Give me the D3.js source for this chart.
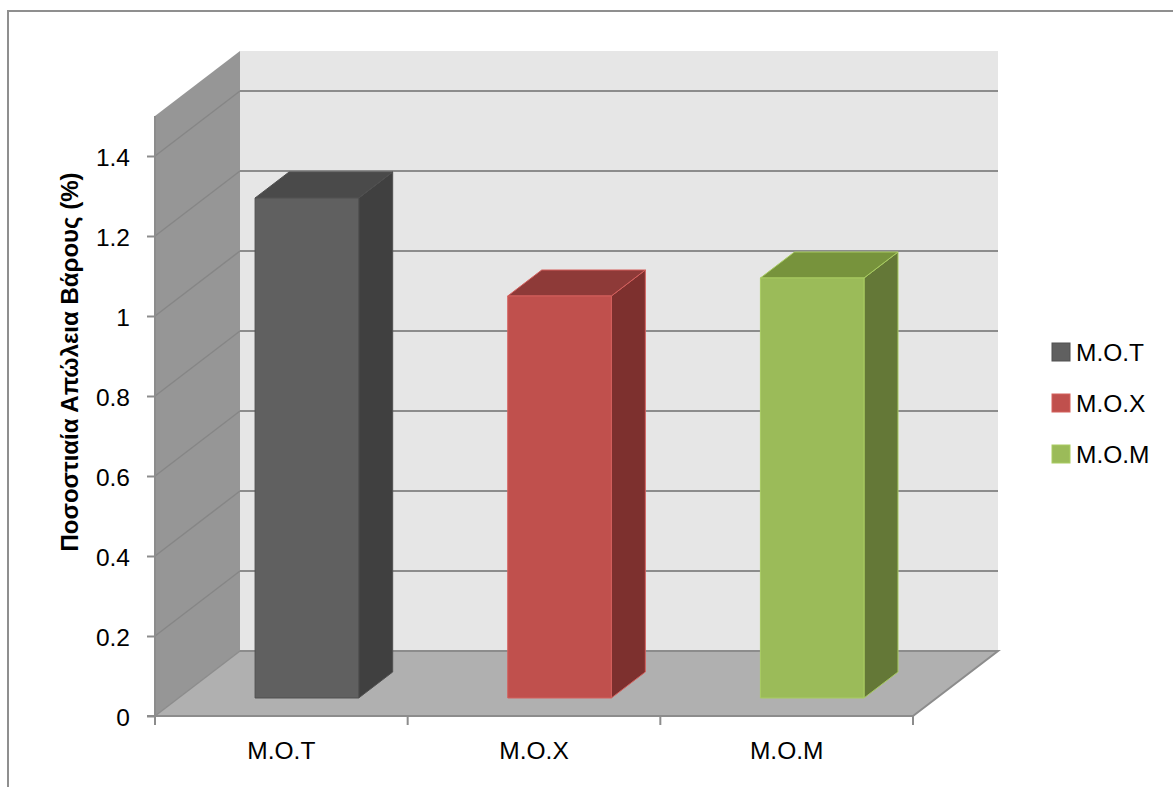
<!DOCTYPE html>
<html>
<head>
<meta charset="utf-8">
<script src="https://cdn.jsdelivr.net/npm/d3@7/dist/d3.min.js"></script>
<style>
  html, body { margin: 0; padding: 0; background: #fff; }
  svg { display: block; }
  text { font-family: "Liberation Sans", Arial, sans-serif; fill: #000; }
</style>
</head>
<body>
<svg id="chart" width="1173" height="787"></svg>
<script>
// ---- data ----
const categories = ["M.O.T", "M.O.X", "M.O.M"];
const values = [1.25, 1.005, 1.05];
const yTicks = [0, 0.2, 0.4, 0.6, 0.8, 1, 1.2, 1.4];
const yTickLabels = ["0", "0.2", "0.4", "0.6", "0.8", "1", "1.2", "1.4"];
const yMax = 1.5;
const axisTitle = "Ποσοστιαία  Απώλεια Βάρους (%)";
const frontColors = ["#606060", "#c0504d", "#9bbb59"];
const sideColors = ["#404040", "#7d302e", "#647837"];
const topColors = ["#4a4a4a", "#8e3a38", "#77933c"];
const edgeColors = ["#505050", "#d4605d", "#a9cc62"];

// ---- layout ----
const svg = d3.select("#chart");
const W = 1173, H = 787;
const front = { left: 155, right: 913, bottom: 716, top: 116 };
const DEPTH_X = 85, DEPTH_Y = 65;      // oblique depth vector
const barD0 = 0.277, barD1 = 0.677;     // bar depth band
const FS = 24.5;

const x = d3.scaleBand().domain(categories).range([front.left, front.right]).paddingInner(0).paddingOuter(0);
const y = d3.scaleLinear().domain([0, yMax]).range([front.bottom, front.top]);

// projection: front-plane coords + depth fraction
const P = (px, py, d) => [px + d * DEPTH_X, py - d * DEPTH_Y];
const poly = pts => pts.map(p => p.join(",")).join(" ");

// background + frame
svg.append("rect").attr("width", W).attr("height", H).attr("fill", "#fff");
svg.append("rect").attr("x", 8).attr("y", 11).attr("width", W + 20).attr("height", H + 20)
  .attr("fill", "none").attr("stroke", "#8f8f8f").attr("stroke-width", 2);

// back wall
const bw = [P(front.left, y(yMax), 1), P(front.right, y(yMax), 1), P(front.right, y(0), 1), P(front.left, y(0), 1)];
svg.append("polygon").attr("points", poly(bw)).attr("fill", "#e6e6e6");
// left wall
const lw = [P(front.left, y(0), 0), P(front.left, y(yMax), 0), P(front.left, y(yMax), 1), P(front.left, y(0), 1)];
svg.append("polygon").attr("points", poly(lw)).attr("fill", "#969696");
// floor
const fl = [P(front.left, y(0), 0), P(front.right, y(0), 0), P(front.right, y(0), 1), P(front.left, y(0), 1)];
svg.append("polygon").attr("points", poly(fl)).attr("fill", "#b0b0b0");

// gridlines
const grid = svg.append("g");
yTicks.filter(t => t > 0).forEach(t => {
  const a = P(front.left, y(t), 0), b = P(front.left, y(t), 1), c = P(front.right, y(t), 1);
  grid.append("line").attr("x1", a[0]).attr("y1", a[1]).attr("x2", b[0]).attr("y2", b[1])
    .attr("stroke", "#868686").attr("stroke-width", 1.5);
  grid.append("line").attr("x1", b[0]).attr("y1", b[1]).attr("x2", c[0]).attr("y2", c[1])
    .attr("stroke", "#8c8c8c").attr("stroke-width", 2);
});
// floor edges
{
  const a = P(front.left, y(0), 1), b = P(front.right, y(0), 1), c = P(front.right, y(0), 0), d = P(front.left, y(0), 0);
  grid.append("polyline").attr("points", poly([a, b, c])).attr("fill", "none").attr("stroke", "#8c8c8c").attr("stroke-width", 2);
  grid.append("line").attr("x1", d[0]).attr("y1", d[1]).attr("x2", a[0]).attr("y2", a[1]).attr("stroke", "#8c8c8c").attr("stroke-width", 1.5);
}

// bars
const bandW = x.bandwidth();
const barW = bandW * 0.41;
const bars = svg.append("g");
categories.forEach((c, i) => {
  const x0 = x(c) + (bandW - barW) / 2 + 2, x1 = x0 + barW;
  const yt = y(values[i]), yb = y(0);
  const f = [P(x0, yt, barD0), P(x1, yt, barD0), P(x1, yb, barD0), P(x0, yb, barD0)];
  const s = [P(x1, yt, barD0), P(x1, yt, barD1), P(x1, yb, barD1), P(x1, yb, barD0)];
  const t = [P(x0, yt, barD0), P(x0, yt, barD1), P(x1, yt, barD1), P(x1, yt, barD0)];
  bars.append("polygon").attr("points", poly(s)).attr("fill", sideColors[i]).attr("stroke", edgeColors[i]).attr("stroke-width", 1).attr("stroke-linejoin", "round");
  bars.append("polygon").attr("points", poly(t)).attr("fill", topColors[i]).attr("stroke", edgeColors[i]).attr("stroke-width", 1).attr("stroke-linejoin", "round");
  bars.append("polygon").attr("points", poly(f)).attr("fill", frontColors[i]).attr("stroke", edgeColors[i]).attr("stroke-width", 1).attr("stroke-linejoin", "round");
});

// y axis (front plane)
const yAxis = d3.axisLeft(y).tickValues(yTicks).tickFormat((d, i) => yTickLabels[i]).tickSize(8).tickPadding(17);
const ya = svg.append("g").attr("transform", `translate(${front.left},0)`).call(yAxis);
ya.select(".domain").attr("stroke", "#8c8c8c").attr("stroke-width", 2).attr("d", `M-8,${y(0)}H0V${y(yMax)}`);
ya.selectAll(".tick line").attr("stroke", "#8c8c8c").attr("stroke-width", 2);
ya.selectAll(".tick text").attr("font-size", FS).attr("dy", "0.4em").attr("font-family", "Liberation Sans, Arial, sans-serif").attr("fill", "#000");

// x axis
const xAxis = d3.axisBottom(x).tickSize(0).tickPadding(26);
const xa = svg.append("g").attr("transform", `translate(0,${front.bottom})`).call(xAxis);
xa.select(".domain").attr("stroke", "#8c8c8c").attr("stroke-width", 2).attr("d", `M${front.left},0H${front.right}`);
xa.selectAll(".tick text").attr("font-size", FS).attr("font-family", "Liberation Sans, Arial, sans-serif").attr("fill", "#000");
// category boundary ticks
const bounds = categories.map(c => x(c)).concat([front.right]);
xa.selectAll("line.bound").data(bounds).enter().append("line").attr("class", "bound")
  .attr("x1", d => d).attr("x2", d => d).attr("y1", 0).attr("y2", 9)
  .attr("stroke", "#8c8c8c").attr("stroke-width", 2);

// axis title
svg.append("text")
  .attr("transform", `translate(78,${362}) rotate(-90)`)
  .attr("text-anchor", "middle")
  .attr("font-size", 24).attr("font-weight", "bold")
  .text(axisTitle);

// legend
const lg = svg.append("g").attr("transform", "translate(1052,343)");
categories.forEach((c, i) => {
  const g = lg.append("g").attr("transform", `translate(0,${i * 51})`);
  g.append("rect").attr("width", 18).attr("height", 18).attr("fill", frontColors[i]).attr("stroke", edgeColors[i]).attr("stroke-width", 1);
  g.append("text").attr("x", 24).attr("y", 18).attr("font-size", FS).text(c);
});
</script>
</body>
</html>
